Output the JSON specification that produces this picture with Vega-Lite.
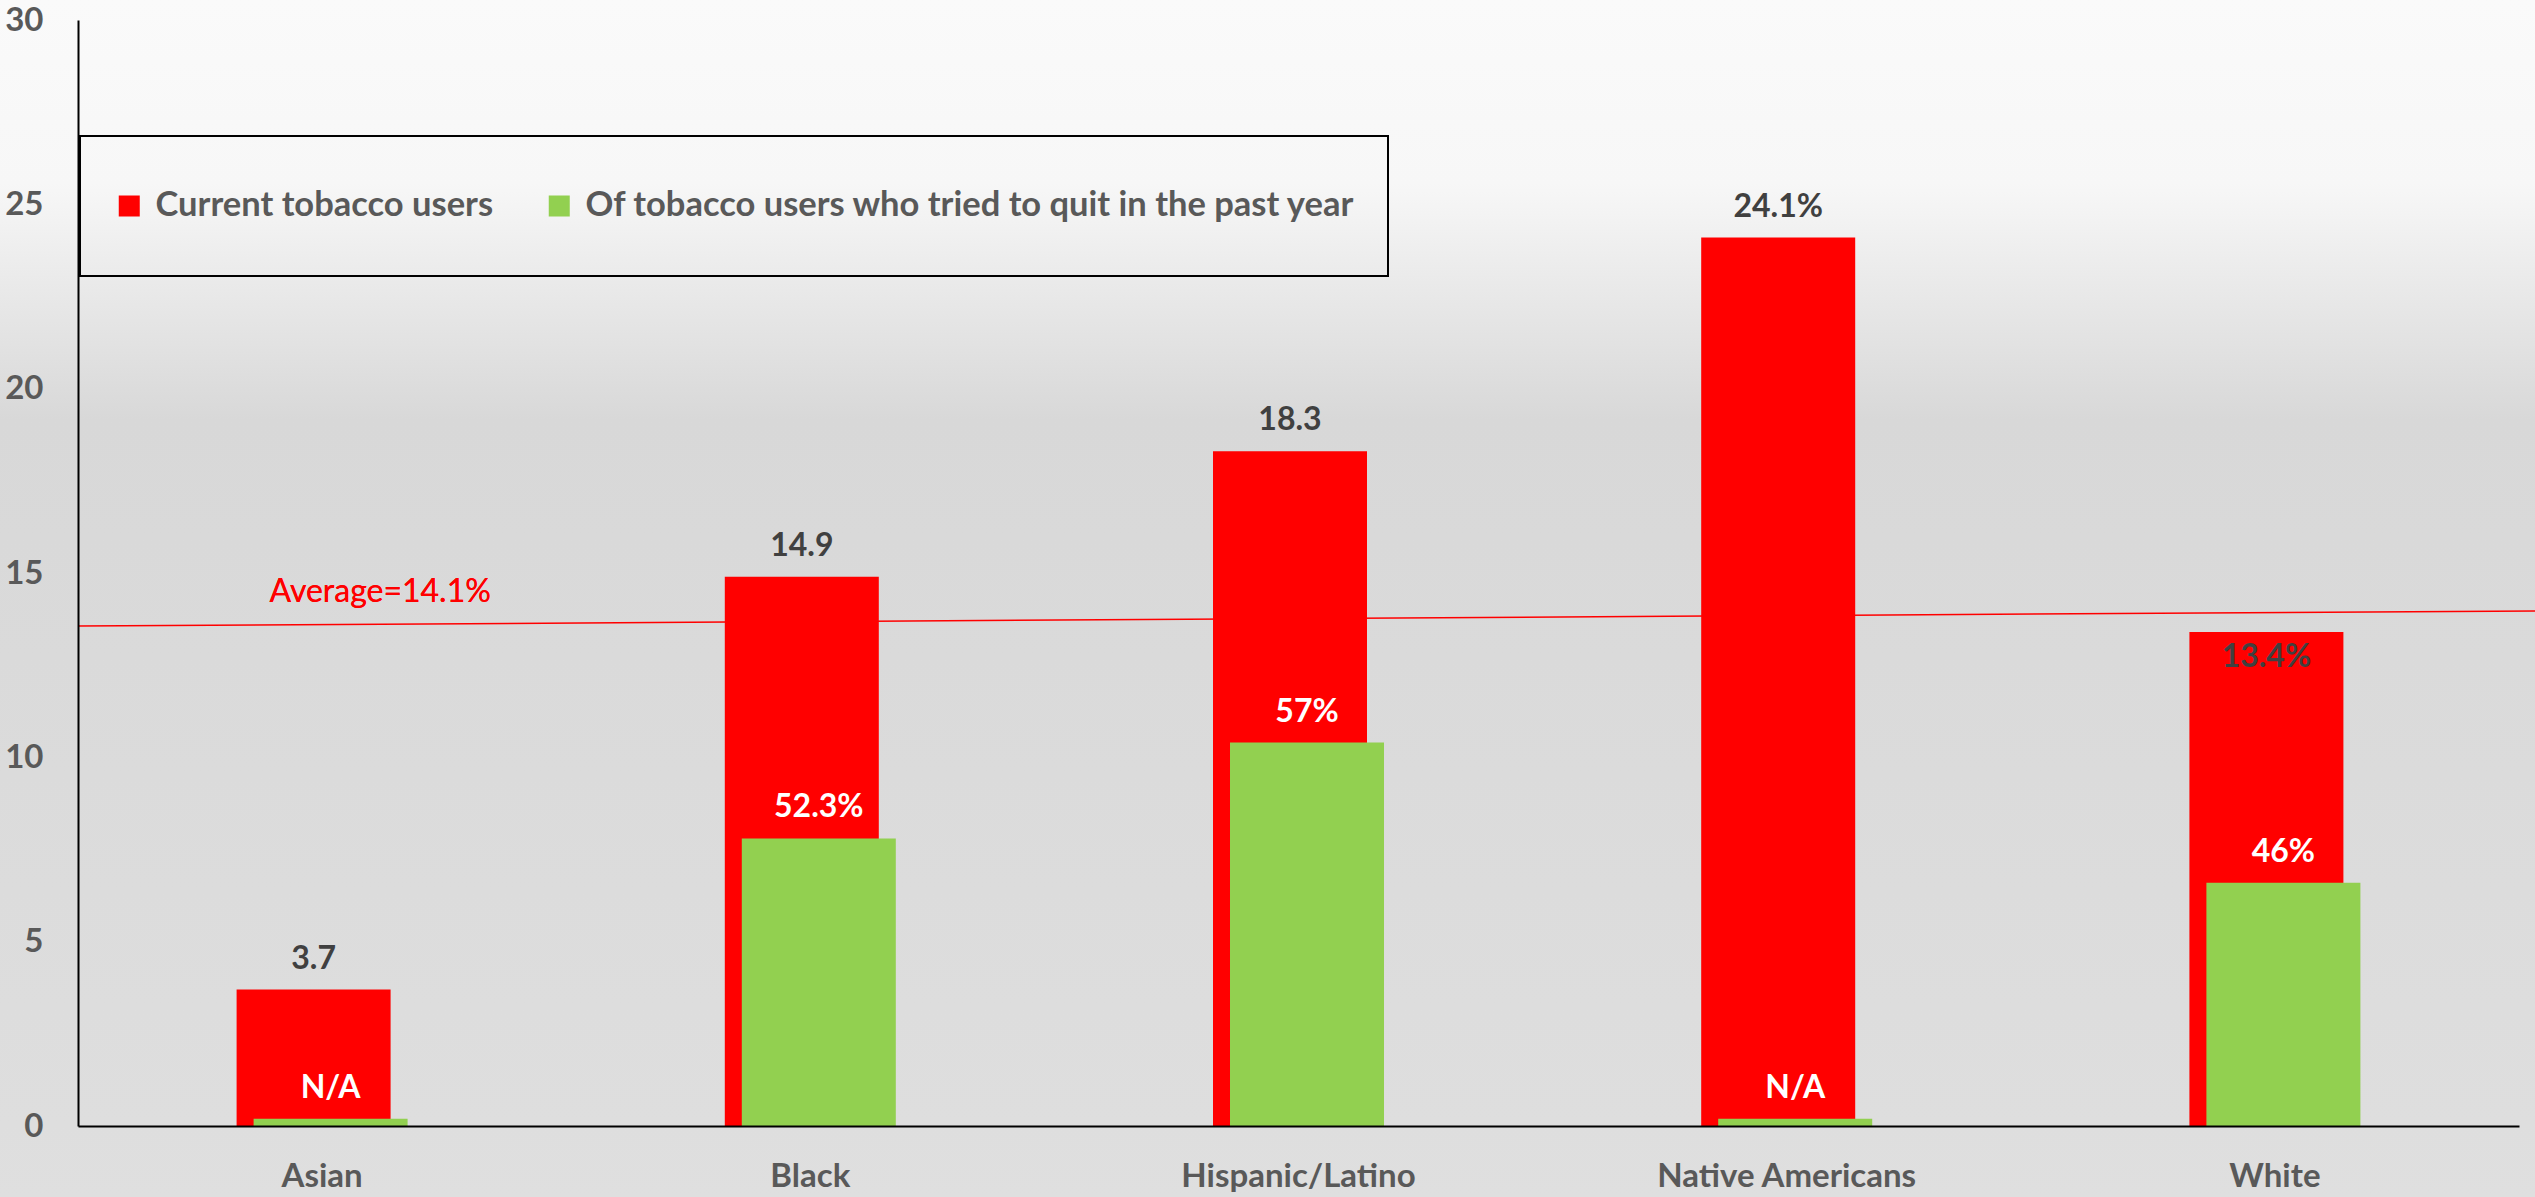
{
  "$schema": "https://vega.github.io/schema/vega-lite/v6.json",
  "width": 2535,
  "height": 1197,
  "autosize": {"type": "none"},
  "padding": 0,
  "background": "#dfdfdf",
  "config": {
    "font": "Lato",
    "legend": {"strokeWidth": 2},
    "view": {
      "stroke": null,
      "fill": {
        "gradient": "linear",
        "x1": 0, "y1": 0, "x2": 0, "y2": 1,
        "stops": [
          {"offset": 0, "color": "#fafafa"},
          {"offset": 0.153, "color": "#f7f7f7"},
          {"offset": 0.351, "color": "#d8d8d8"},
          {"offset": 0.94, "color": "#dedede"},
          {"offset": 1, "color": "#dfdfdf"}
        ]
      }
    }
  },
  "datasets": {
    "groups": [
      {"group": "Asian", "current": 3.7, "currentLabel": "3.7", "quit": 0.2, "quitLabel": "N/A"},
      {"group": "Black", "current": 14.9, "currentLabel": "14.9", "quit": 7.8, "quitLabel": "52.3%"},
      {"group": "Hispanic/Latino", "current": 18.3, "currentLabel": "18.3", "quit": 10.4, "quitLabel": "57%"},
      {"group": "Native Americans", "current": 24.1, "currentLabel": "24.1%", "quit": 0.2, "quitLabel": "N/A"},
      {"group": "White", "current": 13.4, "currentLabel": "13.4%", "quit": 6.6, "quitLabel": "46%"}
    ],
    "average": [
      {"t": 0, "avg": 13.56},
      {"t": 1, "avg": 13.97}
    ]
  },
  "layer": [
    {
      "data": {"name": "average"},
      "layer": [
        {
          "mark": {"type": "line", "color": "#ff0000", "strokeWidth": 1.5},
          "encoding": {
            "x": {"field": "t", "type": "quantitative", "scale": {"domain": [0, 1], "nice": false, "range": [78, 2535]}, "axis": null},
            "y": {"field": "avg", "type": "quantitative", "scale": {"domain": [0, 30], "nice": false, "range": [1126, 20]}}
          }
        },
        {
          "mark": {"type": "text", "text": "Average=14.1%", "color": "#ff0000", "fontSize": 32, "fontWeight": "normal", "align": "center", "baseline": "alphabetic"},
          "encoding": {
            "x": {"datum": 0.123, "type": "quantitative"},
            "y": {"datum": 14.2, "type": "quantitative"}
          }
        }
      ]
    },
    {
      "data": {"name": "groups"},
      "encoding": {
        "x": {
          "field": "group", "type": "nominal", "sort": null,
          "scale": {"paddingInner": 0, "paddingOuter": 0, "range": [78, 2519]},
          "axis": {
            "orient": "bottom", "offset": -71,
            "title": null, "labelAngle": 0, "ticks": false, "domainColor": "#000000", "domainWidth": 2,
            "labelFontSize": 33, "labelFontWeight": "bold", "labelColor": "#595959", "labelPadding": 34, "labelLimit": 1000, "zindex": 1
          }
        }
      },
      "layer": [
        {
          "mark": {"type": "bar", "width": 154, "xOffset": -8.5},
          "encoding": {
            "y": {
              "field": "current", "type": "quantitative",
              "scale": {"domain": [0, 30], "nice": false},
              "axis": {
                "offset": -78,
                "title": null, "values": [0, 5, 10, 15, 20, 25, 30], "grid": false, "ticks": false,
                "domainColor": "#000000", "domainWidth": 2,
                "labelFontSize": 33, "labelFontWeight": "bold", "labelColor": "#595959", "labelPadding": 35, "zindex": 1
              }
            },
            "color": {
              "datum": "Current tobacco users",
              "scale": {"domain": ["Current tobacco users", "Of tobacco users who tried to quit in the past year"], "range": ["#ff0000", "#92d050"]},
              "legend": {
                "title": null, "orient": "none", "legendX": 80, "legendY": 136, "direction": "horizontal",
                "symbolType": "square", "symbolSize": 441, "symbolStrokeWidth": 0,
                "labelFontSize": 34.5, "labelFontWeight": "bold", "labelColor": "#595959", "labelLimit": 2000, "labelOffset": 9,
                "columnPadding": 48, "padding": 32, "clipHeight": 76, "strokeColor": "#000000"
              }
            }
          }
        },
        {
          "mark": {"type": "bar", "width": 154, "xOffset": 8.5},
          "encoding": {
            "y": {"field": "quit", "type": "quantitative"},
            "color": {"datum": "Of tobacco users who tried to quit in the past year"}
          }
        },
        {
          "transform": [{"filter": "datum.group != 'White'"}],
          "mark": {"type": "text", "xOffset": -8.5, "dy": -21, "baseline": "alphabetic", "align": "center", "fontSize": 32, "fontWeight": "bold", "color": "#404040"},
          "encoding": {
            "y": {"field": "current", "type": "quantitative"},
            "text": {"field": "currentLabel"}
          }
        },
        {
          "transform": [{"filter": "datum.group == 'White'"}],
          "mark": {"type": "text", "xOffset": -8.5, "dy": 35, "baseline": "alphabetic", "align": "center", "fontSize": 32, "fontWeight": "bold", "color": "#404040"},
          "encoding": {
            "y": {"field": "current", "type": "quantitative"},
            "text": {"field": "currentLabel"}
          }
        },
        {
          "mark": {"type": "text", "xOffset": 8.5, "dy": -21, "baseline": "alphabetic", "align": "center", "fontSize": 32, "fontWeight": "bold", "color": "#ffffff"},
          "encoding": {
            "y": {"field": "quit", "type": "quantitative"},
            "text": {"field": "quitLabel"}
          }
        }
      ]
    }
  ],
  "resolve": {"scale": {"x": "independent"}}
}
